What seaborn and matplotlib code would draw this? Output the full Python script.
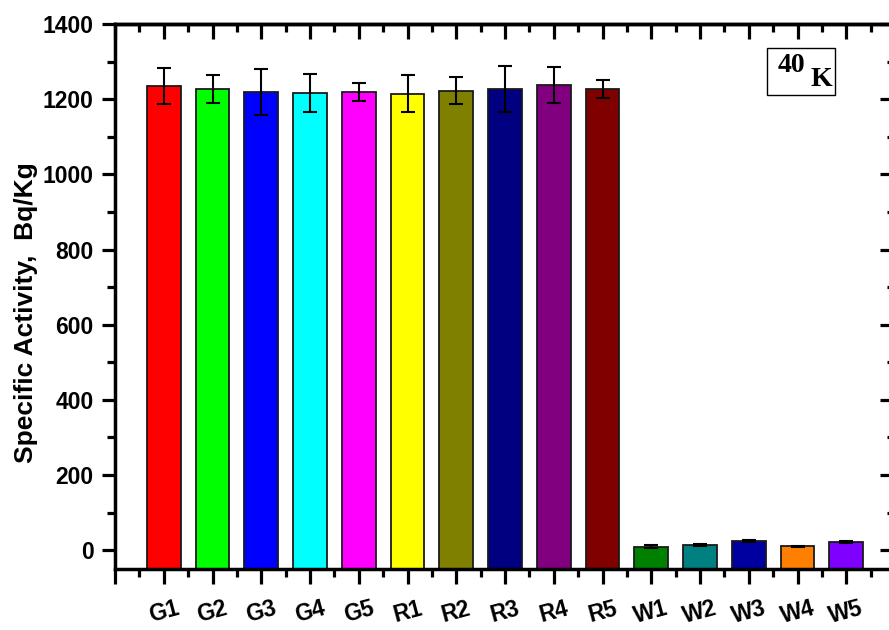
import numpy as np
import matplotlib
matplotlib.use("Agg")
import matplotlib.pyplot as plt
from matplotlib.patches import Rectangle
from matplotlib.ticker import MultipleLocator
import seaborn as sns

# datos
samples = ["G1", "G2", "G3", "G4", "G5", "R1", "R2", "R3", "R4", "R5",
           "W1", "W2", "W3", "W4", "W5"]
activity = [1235, 1227, 1219, 1216, 1219, 1214, 1222, 1228, 1237, 1227,
            9, 14, 25, 10, 21]
errors = [49, 37, 60, 50, 24, 49, 36, 61, 48, 25,
          4, 3, 3, 2, 3]
colors = ["#FF0000", "#00FF00", "#0000FF", "#00FFFF", "#FF00FF",
          "#FFFF00", "#808000", "#000080", "#800080", "#800000",
          "#008000", "#008080", "#0000A0", "#FF8000", "#8000FF"]

ymin, ymax = -50, 1400

sns.set_style("ticks")
plt.rcParams["font.family"] = ["Liberation Sans", "DejaVu Sans"]
plt.rcParams["font.weight"] = "bold"
for k in ["text.color", "axes.labelcolor", "xtick.color", "ytick.color",
          "axes.edgecolor"]:
    plt.rcParams[k] = "black"

fig = plt.figure(figsize=(8.89, 6.3), dpi=100)
ax = fig.add_axes([115 / 889, 61 / 630, 780 / 889, 545 / 630])

heights = [v - ymin for v in activity]
sns.barplot(x=samples, y=heights, hue=samples, palette=colors, legend=False,
            bottom=ymin, width=0.69, edgecolor="#1a1a1a", linewidth=1.3,
            saturation=1, ax=ax)
ax.errorbar(np.arange(len(samples)), activity, yerr=errors, fmt="none",
            ecolor="black", elinewidth=1.5, capsize=5, capthick=1.5)

n = len(samples)
ax.set_xlim(-1, n)
ax.set_ylim(ymin, ymax)

xmaj = np.arange(-1, n + 1)
xmin_t = np.arange(-0.5, n, 1.0)
ax.set_xticks(xmaj)
ax.set_xticks(xmin_t, minor=True)
ax.set_xticklabels([""] + samples + [""], rotation=15, fontsize=16.5,
                   fontweight="bold")
ax.set_yticks(np.arange(0, 1401, 200))
ax.yaxis.set_minor_locator(MultipleLocator(100))
for lab in ax.get_yticklabels():
    lab.set_fontsize(16.5)
    lab.set_fontweight("bold")

ax.tick_params(axis="x", which="major", length=11, width=2.3, pad=9,
               direction="out")
ax.tick_params(axis="x", which="minor", length=6, width=2.3, direction="out")
ax.tick_params(axis="y", which="major", length=9.5, width=2.3, pad=6,
               direction="out")
ax.tick_params(axis="y", which="minor", length=6, width=2.3, direction="out")

# ticks hacia dentro arriba y a la derecha
top = ax.secondary_xaxis("top")
top.set_xticks(xmaj)
top.set_xticks(xmin_t, minor=True)
top.tick_params(which="major", direction="in", length=11, width=2.3,
                labeltop=False)
top.tick_params(which="minor", direction="in", length=6, width=2.3)
top.spines["top"].set_linewidth(2.5)
right = ax.secondary_yaxis("right")
right.set_yticks(np.arange(0, 1401, 200))
right.yaxis.set_minor_locator(MultipleLocator(100))
right.tick_params(which="major", direction="in", length=11, width=2.3,
                  labelright=False)
right.tick_params(which="minor", direction="in", length=6, width=2.3)
right.spines["right"].set_linewidth(2.5)

for side in ["left", "right", "top", "bottom"]:
    ax.spines[side].set_visible(True)
    ax.spines[side].set_linewidth(2.5)

ax.set_xlabel("")
ax.set_ylabel("Specific Activity,  Bq/Kg", fontsize=19, fontweight="bold")
ax.yaxis.set_label_coords(-0.099, 0.47)

# recuadro 40K
fig.patches.append(Rectangle((767 / 889, 1 - 95 / 630), 68 / 889, 47 / 630,
                             transform=fig.transFigure, fill=False,
                             edgecolor="black", linewidth=1))
fig.text(791 / 889, 1 - 66 / 630, "40", ha="center", va="center",
         fontsize=20, fontweight="bold", family="Liberation Serif")
fig.text(821 / 889, 1 - 80 / 630, "K", ha="center", va="center",
         fontsize=20, fontweight="bold", family="Liberation Serif")

fig.savefig("out.png", dpi=100)
